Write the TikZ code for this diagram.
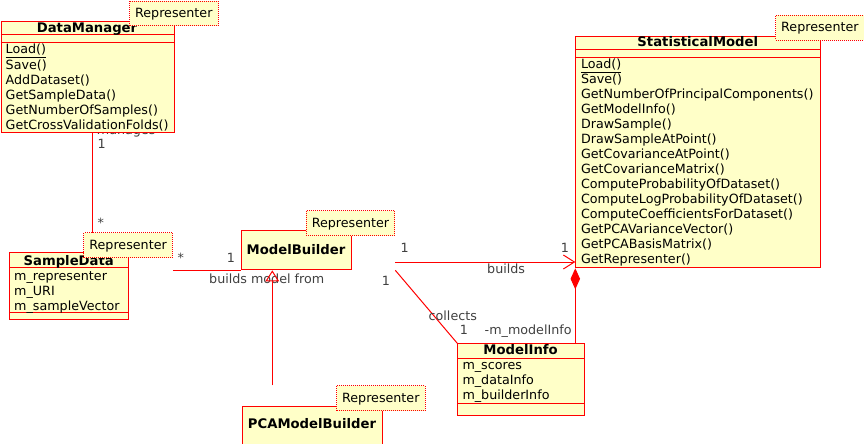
\documentclass[tikz,border=0pt]{standalone}
\usepackage{fontspec}
\setmainfont{DejaVu Sans}
\usetikzlibrary{arrows.meta}
\definecolor{umlred}{RGB}{255,0,0}
\definecolor{umlfill}{RGB}{255,255,200}
\definecolor{labelgray}{RGB}{64,64,64}
\tikzset{
  classbox/.style={draw=umlred, fill=umlfill, line width=1pt, inner sep=0pt, anchor=north west},
  classline/.style={draw=umlred, line width=1pt},
  classname/.style={inner sep=0pt, anchor=base, font=\fontsize{13.2}{15}\selectfont\bfseries},
  member/.style={inner sep=0pt, anchor=base west, font=\fontsize{12.7}{15}\selectfont},
  notebox/.style={draw=umlred, fill=umlfill, line width=1pt, dash pattern=on 1pt off 1pt,
    inner sep=0pt, anchor=north west, minimum width=88.6pt, minimum height=24.7pt,
    text height=9.5pt, text depth=1.5pt, font=\fontsize{12.7}{15}\selectfont},
  assoc/.style={draw=umlred, line width=1pt},
  inherit/.style={draw=umlred, line width=1pt, -{Triangle[open, length=11pt, width=13.5pt]}},
  edgelabel/.style={text=labelgray, inner sep=0pt, anchor=base west, font=\fontsize{12.7}{15}\selectfont}
}
\newcommand{\classsep}[2]{\draw[classline] ([yshift=-#2]#1.north west) -- ([yshift=-#2]#1.north east);}
\begin{document}
\begin{tikzpicture}[x=1pt, y=-1pt]
\useasboundingbox (0,0) rectangle (864,444);
% labels that sit under the boxes
\node[edgelabel] (manages) at (96.7,134) {manages};

% DataManager
\node[classbox, minimum width=173.5pt, minimum height=111.3pt] (dm) at (0.5,20.7) {};
\classsep{dm}{14.3pt}
\classsep{dm}{22pt}
\node[classname] (dmname) at (87,32.3) {DataManager};
\node[member] (dmop0) at (5.5,54) {\underline{Load()}};
\foreach \m [count=\i] in {Save(), AddDataset(), GetSampleData(), GetNumberOfSamples(), GetCrossValidationFolds()}
  \node[member] (dmop\i) at (5.5,{54+15.1*\i}) {\m};

% SampleData
\node[classbox, minimum width=119.3pt, minimum height=66.7pt] (sd) at (9,252.3) {};
\classsep{sd}{15pt}
\classsep{sd}{60.4pt}
\node[classname] (sdname) at (68.7,265) {SampleData};
\foreach \m [count=\i from 0] in {m\_representer, m\_URI, m\_sampleVector}
  \node[member] (sdatt\i) at (14,{280+15*\i}) {\m};

% ModelBuilder and PCAModelBuilder
\node[classbox, minimum width=109.4pt, minimum height=39pt] (mb) at (241.3,230.3) {};
\node[classname] (mbname) at (296,254.3) {ModelBuilder};
\node[classbox, minimum width=139.4pt, minimum height=50pt] (pcab) at (242.3,405.7) {};
\node[classname] (pcabname) at (312,428.7) {PCAModelBuilder};

% StatisticalModel
\node[classbox, minimum width=245pt, minimum height=231.6pt] (sm) at (575.3,35.7) {};
\classsep{sm}{14.3pt}
\classsep{sm}{22pt}
\node[classname] (smname) at (697.8,46.7) {StatisticalModel};
\node[member] (smop0) at (580.8,68.7) {\underline{Load()}};
\foreach \m [count=\i] in {Save(), GetNumberOfPrincipalComponents(), GetModelInfo(), DrawSample(),
    DrawSampleAtPoint(), GetCovarianceAtPoint(), GetCovarianceMatrix(), ComputeProbabilityOfDataset(),
    ComputeLogProbabilityOfDataset(), ComputeCoefficientsForDataset(), GetPCAVarianceVector(),
    GetPCABasisMatrix(), GetRepresenter()}
  \node[member] (smop\i) at (580.8,{68.7+14.97*\i}) {\m};

% ModelInfo
\node[classbox, minimum width=126.7pt, minimum height=71.7pt] (mi) at (457.3,343.3) {};
\classsep{mi}{15pt}
\classsep{mi}{60pt}
\node[classname] (miname) at (520.6,354.3) {ModelInfo};
\foreach \m [count=\i from 0] in {m\_scores, m\_dataInfo, m\_builderInfo}
  \node[member] (miatt\i) at (462.3,{369.3+15*\i}) {\m};

% manages
\draw[assoc] ([xshift=91.5pt]dm.south west) -- ([xshift=83pt]sd.north west);
\node[edgelabel] (manages1) at (97.5,148) {1};
\node[edgelabel] (managesmany) at (97.3,227) {*};

% notes
\node[notebox] (dmnote) at (129,0.7) {Representer};
\node[notebox] (sdnote) at (83.3,232.3) {Representer};
\node[notebox] (mbnote) at (305.7,210.3) {Representer};
\node[notebox] (pcanote) at (336,385.3) {Representer};
\node[notebox, minimum width=88.2pt] (smnote) at (775.3,15) {Representer};

% builds model from
\draw[assoc] (sdnote.east |- mb.south west) -- (mb.south west);
\node[edgelabel] (fromany) at (177.3,262.5) {*};
\node[edgelabel] (fromone) at (226.6,262) {1};
\node[edgelabel] (fromtext) at (209,283) {builds model from};

% generalization
\draw[inherit] ([xshift=30pt,yshift=20.3pt]pcab.north west) -- ([xshift=31pt]mb.south west);

% builds
\coordinate (smin) at ([yshift=6.3pt]sm.south west);
\draw[assoc, -{Straight Barb[length=11pt, width=14pt]}] (mbnote.east |- smin) -- (smin);
\node[edgelabel] (buildsone) at (400.3,252) {1};
\node[edgelabel] (buildstwo) at (560.6,252) {1};
\node[edgelabel] (buildstext) at (487,273.3) {builds};

% collects
\draw[assoc] (mbnote.east |- mb.south) -- (mi.north west);
\node[edgelabel] (collectsone) at (381.6,285) {1};
\node[edgelabel] (collectstext) at (428.5,320) {collects};
\node[edgelabel] (collectstwo) at (459.6,334.3) {1};

% composition
\draw[assoc, {Diamond[length=21pt, width=9.5pt]}-] (sm.south west) -- (mi.north -| sm.south west);
\node[edgelabel] (modelinfo) at (484.5,334.3) {-m\_modelInfo};
\end{tikzpicture}
\end{document}
